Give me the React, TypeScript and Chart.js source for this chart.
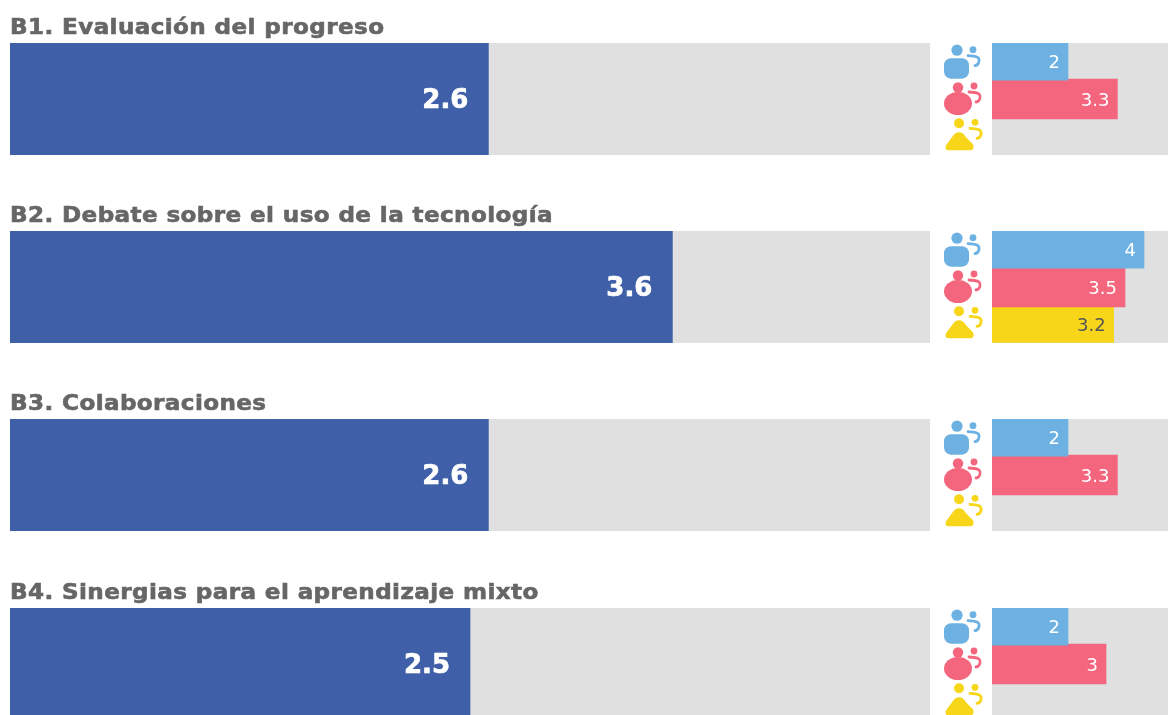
import React, { useEffect, useRef } from "react";
import { Chart, registerables } from "chart.js";

Chart.register(...registerables);

const titles = [
  "B1. Evaluación del progreso",
  "B2. Debate sobre el uso de la tecnología",
  "B3. Colaboraciones",
  "B4. Sinergias para el aprendizaje mixto",
];
const overall = [2.6, 3.6, 2.6, 2.5];
const groupA = [2, 4, 2, 2];
const groupB = [3.3, 3.5, 3.3, 3];
const groupC: (number | null)[] = [null, 3.2, null, null];

const rowTops = [43, 231, 419, 608];
const BLUE = "#3f5fa9";
const GREY = "#e0e0e0";
const SKY = "#6cb1e2";
const PINK = "#f4667d";
const YELLOW = "#f7d518";

const trackPlugin = {
  id: "track",
  beforeDatasetsDraw(chart: any) {
    const { ctx, chartArea: a } = chart;
    ctx.save();
    ctx.fillStyle = GREY;
    ctx.fillRect(a.left, a.top, a.right - a.left, a.bottom - a.top);
    ctx.restore();
  },
};

const labelPlugin = {
  id: "labels",
  afterDatasetsDraw(chart: any, _a: any, opts: any) {
    const { ctx } = chart;
    ctx.save();
    ctx.textAlign = "right";
    ctx.textBaseline = "middle";
    ctx.font = opts.font;
    ctx.letterSpacing = opts.spacing;
    ctx.lineWidth = opts.stroke;
    chart.data.datasets.forEach((ds: any, i: number) => {
      const meta = chart.getDatasetMeta(i);
      ds.data.forEach((v: number | null, j: number) => {
        if (v === null) return;
        const el = meta.data[j];
        ctx.fillStyle = ds.labelColor;
        ctx.strokeStyle = ds.labelColor;
        ctx.fillText(String(v), el.x - opts.inset, el.y + opts.dy);
        if (opts.stroke > 0) ctx.strokeText(String(v), el.x - opts.inset, el.y + opts.dy);
      });
    });
    ctx.restore();
  },
};

function childMark(ctx: CanvasRenderingContext2D, x: number, y: number, color: string) {
  ctx.fillStyle = color;
  ctx.strokeStyle = color;
  ctx.lineWidth = 2.8;
  ctx.lineCap = "round";
  ctx.beginPath();
  ctx.arc(x, y, 3.4, 0, Math.PI * 2);
  ctx.fill();
  ctx.beginPath();
  ctx.moveTo(x - 5, y + 6);
  ctx.lineTo(x + 0.5, y + 6.5);
  ctx.quadraticCurveTo(x + 7, y + 7, x + 6, y + 12);
  ctx.quadraticCurveTo(x + 5, y + 16, x + 2, y + 16);
  ctx.stroke();
}

const iconPlugin = {
  id: "icons",
  afterDraw(chart: any) {
    const { ctx, chartArea, scales } = chart;
    const x = chartArea.left - 48;
    ctx.save();
    // adult with a rounded square body
    let cy = scales.y.getPixelForValue(0);
    ctx.fillStyle = SKY;
    ctx.beginPath();
    ctx.arc(x + 13, cy - 11.5, 5.6, 0, Math.PI * 2);
    ctx.fill();
    ctx.beginPath();
    ctx.roundRect(x, cy - 3.5, 25, 20.5, 7);
    ctx.fill();
    childMark(ctx, x + 29, cy - 12, SKY);
    // adult with a round body
    cy = scales.y.getPixelForValue(1);
    ctx.fillStyle = PINK;
    ctx.beginPath();
    ctx.arc(x + 14, cy - 11.5, 5.2, 0, Math.PI * 2);
    ctx.fill();
    ctx.beginPath();
    ctx.ellipse(x + 14, cy + 4.5, 14, 11.5, 0, 0, Math.PI * 2);
    ctx.fill();
    childMark(ctx, x + 30, cy - 13, PINK);
    // adult with a triangular body
    cy = scales.y.getPixelForValue(2);
    ctx.fillStyle = YELLOW;
    ctx.beginPath();
    ctx.arc(x + 15, cy - 13, 5, 0, Math.PI * 2);
    ctx.fill();
    ctx.beginPath();
    ctx.moveTo(x + 15, cy - 4);
    ctx.quadraticCurveTo(x + 19, cy - 4, x + 22, cy + 1);
    ctx.lineTo(x + 29, cy + 8);
    ctx.quadraticCurveTo(x + 31, cy + 14, x + 26, cy + 14);
    ctx.lineTo(x + 5, cy + 14);
    ctx.quadraticCurveTo(x + 0, cy + 14, x + 2, cy + 9);
    ctx.lineTo(x + 8, cy + 1);
    ctx.quadraticCurveTo(x + 11, cy - 4, x + 15, cy - 4);
    ctx.fill();
    childMark(ctx, x + 31, cy - 14, YELLOW);
    ctx.restore();
  },
};

const hiddenAxes = (labels: string[]) => ({
  x: { display: false, min: 0, max: 5 },
  y: { display: false, type: "category" as const, labels },
});

function OverallBar({ row }: { row: number }) {
  const ref = useRef<HTMLCanvasElement>(null);
  useEffect(() => {
    const chart = new Chart(ref.current!, {
      type: "bar",
      data: {
        labels: [titles[row]],
        datasets: [
          {
            data: [overall[row]],
            backgroundColor: BLUE,
            categoryPercentage: 1,
            barPercentage: 1,
            labelColor: "#ffffff",
          } as any,
        ],
      },
      options: {
        indexAxis: "y",
        animation: false,
        responsive: false,
        events: [],
        layout: { padding: 0 },
        scales: hiddenAxes([titles[row]]),
        plugins: {
          legend: { display: false },
          tooltip: { enabled: false },
          labels: { font: "bold 26px 'DejaVu Sans'", spacing: "0px", inset: 20, dy: 2, stroke: 0.7 },
        } as any,
      },
      plugins: [trackPlugin, labelPlugin],
    });
    return () => chart.destroy();
  }, [row]);
  return (
    <canvas
      ref={ref}
      width={920}
      height={112}
      style={{ position: "absolute", left: 10, top: rowTops[row], width: 920, height: 112 }}
    />
  );
}

function GroupBars({ row }: { row: number }) {
  const ref = useRef<HTMLCanvasElement>(null);
  useEffect(() => {
    const cats = ["A", "B", "C"];
    const vals = [groupA[row], groupB[row], groupC[row]];
    const colors = [SKY, PINK, YELLOW];
    const inks = ["#ffffff", "#ffffff", "#55565a"];
    const thick = [37, 40, 36];
    const chart = new Chart(ref.current!, {
      type: "bar",
      data: {
        labels: cats,
        datasets: vals.map((v, i) => ({
          data: cats.map((_, j) => (j === i ? v : null)),
          backgroundColor: colors[i],
          barThickness: thick[i],
          grouped: false,
          labelColor: inks[i],
        })) as any,
      },
      options: {
        indexAxis: "y",
        animation: false,
        responsive: false,
        events: [],
        layout: { padding: { left: 52 } },
        scales: hiddenAxes(cats),
        plugins: {
          legend: { display: false },
          tooltip: { enabled: false },
          labels: { font: "18px 'DejaVu Sans'", spacing: "0px", inset: 8, dy: 2, stroke: 0 },
        } as any,
      },
      plugins: [trackPlugin, labelPlugin, iconPlugin],
    });
    return () => chart.destroy();
  }, [row]);
  return (
    <canvas
      ref={ref}
      width={242}
      height={112}
      style={{ position: "absolute", left: 940, top: rowTops[row], width: 242, height: 112 }}
    />
  );
}

export default function App() {
  useEffect(() => {
    document.body.style.margin = "0";
    document.body.style.overflow = "hidden";
  }, []);
  return (
    <div
      style={{
        position: "fixed",
        left: 0,
        top: 0,
        width: 1168,
        height: 715,
        overflow: "hidden",
        background: "#fff",
      }}
    >
      <div style={{ position: "absolute", inset: 0, filter: "blur(0.6px)" }}>
        {titles.map((t, i) => (
          <div
            key={t}
            style={{
              position: "absolute",
              left: 10,
              top: rowTops[i] - 28,
              height: 26,
              lineHeight: "26px",
              whiteSpace: "nowrap",
              font: "bold 21px 'DejaVu Sans'",
              letterSpacing: "0.35px",
              color: "#666666",
              WebkitTextStroke: "0.6px #666666",
              transform: "scaleX(1.1)",
              transformOrigin: "left center",
            }}
          >
            {t}
          </div>
        ))}
        {titles.map((t, i) => (
          <React.Fragment key={t}>
            <OverallBar row={i} />
            <GroupBars row={i} />
          </React.Fragment>
        ))}
      </div>
    </div>
  );
}
